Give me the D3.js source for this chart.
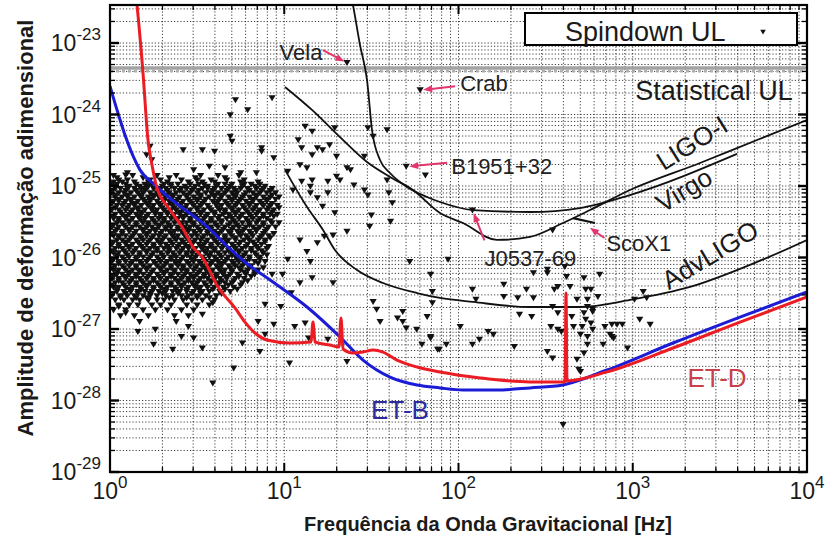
<!DOCTYPE html>
<html>
<head>
<meta charset="utf-8">
<script src="https://cdn.jsdelivr.net/npm/d3@7"></script>
<style>
  body { margin: 0; background: #fff; }
  svg { display: block; font-family: "Liberation Sans", Arial, Helvetica, sans-serif; }
</style>
</head>
<body>
<svg id="chart" width="825" height="540"></svg>
<script>
// ---------------- data ----------------
// sensitivity curves: [frequency Hz, strain amplitude]
const etB = [[1.0,2.5e-24],[1.097,1.16e-24],[1.219,5.16e-25],[1.486,1.68e-25],[1.813,1.03e-25],[2.269,6.37e-26],[2.803,4.33e-26],[3.51,2.85e-26],[4.755,1.40e-26],[5.953,8.65e-27],[8.617,4.54e-27],[13.51,2.03e-27],[20.89,7.73e-28],[28.31,3.68e-28],[40.45,2.13e-28],[57.8,1.65e-28],[78.3,1.50e-28],[106.1,1.40e-28],[166.3,1.40e-28],[257.2,1.50e-28],[397.9,1.65e-28],[711.7,2.67e-28],[1702,6.37e-28],[4126,1.47e-27],[10000,3.29e-27]];

const etD = [[1.41,4.69e-23],[1.429,3.40e-23],[1.547,3.80e-24],[1.652,4.40e-25],[1.742,1.97e-25],[1.861,9.37e-26],[2.152,5.08e-26],[2.59,2.67e-26],[2.995,1.40e-26],[3.373,1.02e-26],[4.168,3.87e-27],[5.216,1.97e-27],[5.953,1.25e-27],[6.795,8.79e-28],[7.96,7.02e-28],[10.79,6.37e-28],[14.24,6.58e-28],[14.62,1.25e-27],[15.02,6.58e-28],[18.3,5.97e-28],[20.62,5.60e-28],[21.17,1.43e-27],[21.74,5.25e-28],[24.8,4.61e-28],[28.31,4.76e-28],[32.31,5.08e-28],[36.87,4.76e-28],[44.36,3.68e-28],[57.8,2.94e-28],[78.3,2.51e-28],[132.9,2.07e-28],[257.2,1.82e-28],[408.6,1.82e-28],[414,3.18e-27],[419.5,1.88e-28],[711.7,2.51e-28],[1702,5.42e-28],[4126,1.25e-27],[10000,2.81e-27]];

const ligoI = [[10.1,2.43e-24],[14.43,1.16e-24],[20.89,4.84e-25],[29.85,2.17e-25],[40.45,1.34e-25],[54.8,8.79e-26],[78.3,4.19e-26],[106.1,3.04e-26],[166.3,1.76e-26],[257.2,1.94e-26],[397.9,3.04e-26],[568.6,4.61e-26],[964.3,8.79e-26],[2431,2.10e-25],[5166,4.40e-25],[10000,8.37e-25]];

const virgo = [[23.84,5.51e-23],[24.8,3.40e-23],[27.21,9.37e-24],[29.85,3.04e-24],[31.89,6.07e-25],[35.44,2.31e-25],[40.45,1.52e-25],[50.63,9.68e-26],[65.95,7.02e-26],[78.3,5.97e-26],[121.1,4.61e-26],[257.2,4.33e-26],[498.1,4.92e-26],[964.3,7.48e-26],[3967,2.81e-25]];

const advLigo = [[10.1,1.68e-25],[13.51,5.08e-26],[16.69,2.43e-26],[19.55,1.27e-26],[26.16,6.68e-27],[36.87,4.40e-27],[57.8,3.18e-27],[78.3,2.72e-27],[121.1,2.39e-27],[257.2,2.03e-27],[498.1,2.03e-27],[964.3,2.55e-27],[2131,3.87e-27],[5166,8.65e-27],[10000,1.76e-26]];

const scoX1 = [[454,3.56e-26],[607,3.04e-26]];

const statisticalUL = 4.47e-24;

// spindown upper limits of known pulsars: [log10 f, log10 h]
const spindownSparse = [[0.72,-23.8],[0.79,-23.94],[0.93,-23.77],[0.69,-24.01],[0.69,-24.31],[0.42,-24.5],[0.53,-24.5],[0.6,-24.52],[0.87,-24.52],[0.23,-24.45],[0.21,-24.57],[0.57,-24.73],[0.75,-24.82],[0.1,-24.82],[0.84,-24.82],[0.7,-24.38],[0.09,-24.85],[0.24,-24.64],[0.48,-24.78],[0.66,-24.75],[1.12,-24.17],[1.16,-24.24],[1.29,-24.19],[1.48,-24.19],[1.59,-24.22],[1.08,-24.36],[0.87,-24.47],[1.19,-24.47],[1.26,-24.43],[1.1,-24.47],[0.94,-24.61],[1.16,-24.57],[1.22,-24.5],[1.3,-24.59],[1.36,-24.75],[1.38,-24.78],[1.46,-24.59],[1.09,-24.71],[1.02,-24.8],[1.13,-24.75],[1.16,-24.92],[1.25,-24.94],[1.3,-24.87],[1.32,-24.92],[1.4,-24.99],[1.46,-25.06],[1.48,-25.13],[1.59,-24.92],[1.6,-25.1],[1.62,-25.24],[1.5,-25.41],[1.49,-25.57],[1.61,-25.5],[1.36,-25.64],[1.29,-25.38],[1.22,-25.29],[1.15,-25.01],[1.15,-25.1],[1.1,-24.94],[1.05,-25.06],[1.19,-25.17],[1.25,-25.1],[1.28,-25.69],[1.19,-25.8],[1.13,-25.92],[1.23,-25.71],[1.09,-25.76],[1.51,-24.31],
[1.78,-23.66],[1.36,-23.28],[1.7,-24.73],[1.81,-24.85],[2.08,-25.34],
[1.02,-26.03],[1.15,-26.06],[1.16,-26.29],[1.09,-26.36],[1.28,-26.36],[1.04,-26.5],[0.93,-26.24],[0.99,-26.24],[0.89,-26.66],[0.98,-26.69],[0.85,-26.9],[0.94,-26.94],[1.06,-26.97],[1.12,-26.92],[0.89,-27.08],[1.14,-27.13],[1.25,-27.15],[0.76,-27.2],[0.86,-27.32],[1.03,-27.48],[1.36,-27.46],[1.51,-26.62],[1.53,-26.73],[1.55,-26.9],[1.65,-26.85],[1.68,-26.76],[1.68,-26.9],[1.76,-27.01],[1.7,-26.99],[1.79,-27.22],[1.84,-27.13],[1.82,-26.83],[1.72,-26.06],[1.84,-26.24],[1.85,-26.48],[1.85,-26.64],[1.88,-27.29],
[1.94,-26.03],[2.1,-26.59],[2.08,-26.45],[2.26,-26.38],[2.26,-26.55],[2.34,-26.57],[2.39,-26.45],[2.43,-26.22],[2.51,-26.17],[2.43,-26.57],[2.35,-26.8],[2.42,-26.83],[2.54,-25.62],[2.61,-26.13],[2.62,-26.27],[2.72,-26.29],[2.81,-26.24],[2.57,-26.41],[2.55,-26.45],[2.54,-26.69],[2.57,-26.78],[2.53,-26.97],[2.59,-27.04],[2.65,-26.83],[2.66,-26.97],[2.71,-26.97],[2.72,-26.78],[2.74,-26.69],[2.77,-26.73],[2.74,-26.59],[2.68,-26.59],[2.73,-26.45],[2.64,-26.41],[2.74,-27.11],[2.77,-27.01],[2.74,-27.22],[2.83,-27.22],[2.72,-27.34],[2.68,-27.43],[2.7,-27.6],[2.54,-27.41],[2.51,-27.32],[2.88,-27.11],[2.88,-26.94],[2.94,-26.94],[2.01,-26.97],[2.17,-27.04],[2.2,-27.08],[2.12,-27.15],[2.08,-27.22],[1.93,-27.22],[1.89,-27.29],[2.32,-27.25],[2.6,-28.34],[1.84,-27.11],
[2.51,-26.22],[2.76,-26.45],[2.8,-26.55],[3.06,-26.48],[3.08,-26.57],[3.01,-26.59],[2.91,-26.94],[3.04,-26.87],[3.1,-26.94],[2.97,-27.27],[2.87,-27.08],[2.89,-27.13],[2.57,-27.01],[2.69,-27.57],[2.76,-26.92],[2.7,-27.08],[2.77,-26.76],[2.84,-26.97],[2.73,-26.87],
[0.59,-27.76],[0.09,-26.78],[0.16,-27.04],[0.25,-27.22],[0.36,-27.29],[0.41,-27.11],[0.48,-27.13],[0.53,-27.27],[0.71,-27.55],[0.17,-26.9],[0.26,-27.01],[0.38,-26.9],[0.45,-26.97],[0.53,-26.8],[0.59,-26.64],[0.05,-26.69]];

// dense low-frequency population, one row per log10 h: [log10 h, [log10 f, ...]]
const spindownCluster = [
 [-24.86,[0.02,0.13,0.27,0.38,0.52,0.62,0.74]],
 [-24.89,[0.04,0.19,0.34,0.49,0.66]],
 [-24.92,[0.05,0.1,0.23,0.29,0.41,0.5,0.58,0.67,0.77]],
 [-24.95,[0.02,0.07,0.14,0.22,0.33,0.45,0.53,0.6,0.75,0.85]],
 [-24.98,[0.01,0.04,0.09,0.15,0.2,0.24,0.31,0.35,0.39,0.46,0.51,0.54,0.62,0.66,0.7,0.77,0.81,0.86]],
 [-25.01,[0.03,0.11,0.17,0.22,0.3,0.35,0.43,0.49,0.56,0.61,0.69,0.76,0.83,0.89]],
 [-25.04,[0.03,0.06,0.1,0.14,0.18,0.21,0.25,0.29,0.32,0.37,0.41,0.44,0.48,0.53,0.56,0.6,0.64,0.68,0.71,0.75,0.79,0.84,0.88,0.93]],
 [-25.07,[0.01,0.09,0.15,0.2,0.28,0.33,0.4,0.47,0.51,0.59,0.67,0.72,0.8,0.87,0.92]],
 [-25.1,[0.01,0.05,0.08,0.12,0.16,0.19,0.23,0.27,0.3,0.34,0.38,0.42,0.46,0.5,0.55,0.58,0.62,0.66,0.7,0.73,0.78,0.82,0.86,0.9,0.95]],
 [-25.13,[0.03,0.1,0.17,0.25,0.32,0.36,0.44,0.52,0.6,0.64,0.71,0.77,0.84,0.93]],
 [-25.16,[0.03,0.07,0.1,0.14,0.18,0.22,0.25,0.28,0.32,0.36,0.4,0.44,0.48,0.52,0.57,0.6,0.64,0.68,0.72,0.76,0.8,0.84,0.88,0.92,0.97]],
 [-25.19,[0.05,0.12,0.19,0.23,0.3,0.39,0.45,0.5,0.55,0.63,0.7,0.75,0.82,0.9,0.95]],
 [-25.22,[0.02,0.05,0.09,0.12,0.16,0.2,0.23,0.27,0.31,0.34,0.38,0.42,0.46,0.5,0.54,0.59,0.62,0.66,0.7,0.74,0.78,0.82,0.86,0.9]],
 [-25.25,[0.01,0.08,0.14,0.21,0.28,0.35,0.41,0.47,0.53,0.61,0.67,0.73,0.8,0.87,0.93]],
 [-25.28,[0.04,0.07,0.11,0.14,0.18,0.22,0.25,0.29,0.33,0.36,0.4,0.44,0.48,0.52,0.56,0.61,0.64,0.68,0.72,0.76,0.8,0.84,0.88,0.92,0.96]],
 [-25.31,[0.03,0.1,0.16,0.24,0.3,0.37,0.43,0.5,0.57,0.62,0.7,0.77,0.83,0.91,0.97]],
 [-25.34,[0.01,0.05,0.09,0.13,0.16,0.2,0.24,0.27,0.31,0.35,0.38,0.42,0.46,0.5,0.54,0.58,0.63,0.66,0.7,0.74,0.78,0.82,0.86,0.9,0.94]],
 [-25.37,[0.06,0.12,0.18,0.26,0.33,0.4,0.45,0.52,0.6,0.66,0.72,0.79,0.85,0.93]],
 [-25.4,[0.03,0.07,0.11,0.15,0.18,0.22,0.26,0.29,0.33,0.37,0.4,0.44,0.48,0.52,0.56,0.6,0.65,0.68,0.72,0.76,0.8,0.84,0.88,0.92,0.96]],
 [-25.43,[0.02,0.09,0.16,0.21,0.29,0.36,0.42,0.49,0.55,0.63,0.69,0.75,0.81,0.88,0.94]],
 [-25.46,[0.02,0.05,0.09,0.13,0.17,0.2,0.24,0.28,0.31,0.35,0.39,0.42,0.46,0.5,0.54,0.58,0.62,0.67,0.7,0.74,0.78,0.82,0.86,0.9]],
 [-25.49,[0.05,0.11,0.18,0.25,0.31,0.38,0.46,0.53,0.58,0.64,0.71,0.79,0.85,0.92]],
 [-25.52,[0.04,0.07,0.11,0.15,0.19,0.22,0.26,0.3,0.33,0.37,0.41,0.44,0.48,0.52,0.56,0.6,0.64,0.69,0.72,0.76,0.8,0.84,0.88,0.93,0.97]],
 [-25.55,[0.02,0.08,0.15,0.22,0.28,0.34,0.41,0.48,0.55,0.61,0.68,0.73,0.8,0.88]],
 [-25.58,[0.01,0.05,0.09,0.13,0.17,0.21,0.24,0.28,0.32,0.35,0.39,0.43,0.46,0.5,0.54,0.58,0.62,0.66,0.71,0.74,0.78,0.82,0.86,0.91,0.95]],
 [-25.61,[0.04,0.11,0.19,0.26,0.32,0.39,0.44,0.51,0.58,0.65,0.7,0.77,0.84,0.9]],
 [-25.64,[0.03,0.07,0.11,0.15,0.19,0.23,0.26,0.3,0.34,0.37,0.41,0.45,0.48,0.52,0.56,0.6,0.64,0.68,0.73,0.76,0.8,0.84,0.89]],
 [-25.67,[0.01,0.07,0.14,0.21,0.29,0.35,0.42,0.49,0.56,0.62,0.69,0.74,0.81,0.88,0.94]],
 [-25.7,[0.02,0.05,0.09,0.13,0.17,0.21,0.25,0.28,0.32,0.36,0.39,0.43,0.47,0.5,0.54,0.58,0.62,0.66,0.7,0.75,0.78,0.82,0.87,0.91]],
 [-25.73,[0.05,0.12,0.18,0.24,0.31,0.37,0.44,0.53,0.59,0.66,0.72,0.79,0.86,0.92]],
 [-25.76,[0.04,0.07,0.11,0.15,0.19,0.23,0.27,0.3,0.34,0.38,0.41,0.45,0.49,0.52,0.56,0.6,0.64,0.68,0.72,0.77,0.8,0.85,0.89]],
 [-25.79,[0.02,0.09,0.16,0.22,0.28,0.35,0.42,0.48,0.55,0.61,0.67,0.75,0.82,0.89]],
 [-25.82,[0.01,0.05,0.09,0.13,0.17,0.21,0.25,0.29,0.32,0.36,0.4,0.43,0.47,0.51,0.54,0.58,0.62,0.66,0.7,0.74,0.79,0.83,0.87]],
 [-25.85,[0.05,0.11,0.18,0.25,0.33,0.39,0.45,0.52,0.58,0.65,0.71,0.78,0.84,0.91]],
 [-25.88,[0.03,0.07,0.11,0.15,0.19,0.23,0.27,0.31,0.34,0.38,0.42,0.45,0.49,0.53,0.56,0.6,0.64,0.68,0.72,0.76,0.81,0.85,0.9]],
 [-25.91,[0.01,0.08,0.14,0.21,0.27,0.34,0.41,0.48,0.54,0.6,0.68,0.74,0.81,0.87]],
 [-25.94,[0.02,0.05,0.09,0.13,0.17,0.21,0.25,0.29,0.33,0.36,0.4,0.44,0.47,0.51,0.55,0.58,0.62,0.66,0.7,0.74,0.78,0.83,0.88]],
 [-25.97,[0.04,0.1,0.17,0.24,0.3,0.37,0.44,0.5,0.57,0.63,0.7,0.77,0.84,0.9]],
 [-26,[0.04,0.07,0.11,0.15,0.19,0.23,0.27,0.31,0.35,0.38,0.42,0.46,0.49,0.53,0.57,0.6,0.64,0.68,0.72,0.76,0.8,0.86]],
 [-26.03,[0.02,0.08,0.15,0.22,0.28,0.35,0.41,0.47,0.54,0.61,0.67,0.73,0.8,0.86]],
 [-26.06,[0.01,0.05,0.09,0.13,0.17,0.21,0.25,0.29,0.33,0.37,0.4,0.44,0.48,0.51,0.55,0.59,0.62,0.66,0.7,0.74,0.78,0.83,0.89]],
 [-26.09,[0.05,0.12,0.18,0.26,0.32,0.38,0.45,0.52,0.58,0.64,0.71,0.77,0.85]],
 [-26.12,[0.03,0.07,0.11,0.15,0.19,0.23,0.27,0.31,0.35,0.39,0.42,0.46,0.5,0.53,0.57,0.61,0.64,0.68,0.72,0.76,0.81]],
 [-26.15,[0.01,0.08,0.15,0.21,0.29,0.35,0.42,0.49,0.55,0.62,0.69,0.74,0.8,0.88]],
 [-26.18,[0.02,0.05,0.09,0.13,0.17,0.21,0.25,0.29,0.33,0.37,0.41,0.44,0.48,0.52,0.55,0.59,0.63,0.66,0.7,0.75,0.79,0.85]],
 [-26.21,[0.04,0.11,0.17,0.24,0.31,0.37,0.44,0.51,0.57,0.64,0.7,0.77,0.83]],
 [-26.24,[0.04,0.07,0.11,0.15,0.19,0.23,0.27,0.31,0.35,0.39,0.43,0.46,0.5,0.54,0.57,0.61,0.65,0.69,0.73,0.78,0.83]],
 [-26.27,[0.02,0.09,0.15,0.22,0.28,0.35,0.42,0.48,0.54,0.61,0.67,0.74,0.81]],
 [-26.3,[0.01,0.05,0.09,0.13,0.17,0.21,0.25,0.29,0.33,0.37,0.41,0.45,0.48,0.52,0.56,0.6,0.63,0.67,0.72,0.77]],
 [-26.33,[0.05,0.12,0.18,0.25,0.32,0.39,0.45,0.51,0.58,0.64,0.71,0.79]],
 [-26.36,[0.03,0.07,0.11,0.15,0.19,0.23,0.27,0.31,0.35,0.39,0.43,0.47,0.5,0.54,0.58,0.62,0.66,0.7,0.76]],
 [-26.39,[0.01,0.08,0.15,0.21,0.28,0.35,0.41,0.48,0.55,0.62,0.68,0.75]],
 [-26.42,[0.02,0.05,0.09,0.13,0.17,0.21,0.25,0.29,0.33,0.37,0.41,0.45,0.49,0.52,0.56,0.6,0.65,0.71]],
 [-26.45,[0.04,0.11,0.18,0.25,0.31,0.38,0.44,0.51,0.59,0.66,0.73]],
 [-26.48,[0.04,0.08,0.12,0.16,0.2,0.24,0.28,0.32,0.36,0.4,0.44,0.48,0.53,0.57,0.63,0.69]],
 [-26.51,[0.02,0.09,0.16,0.23,0.3,0.39,0.47,0.52,0.64]],
 [-26.54,[0.01,0.06,0.1,0.14,0.19,0.23,0.27,0.32,0.36,0.41,0.45,0.5,0.55,0.61]],
 [-26.57,[0.06,0.15,0.21,0.34,0.44,0.5,0.57]],
 [-26.6,[0.03,0.08,0.13,0.17,0.22,0.27,0.31,0.37,0.42,0.47,0.53,0.6]],
 [-26.67,[0.05,0.11,0.16,0.24,0.29,0.35,0.44,0.5,0.57]],
 [-26.74,[0.02,0.09,0.19,0.26,0.33,0.41,0.48]],
 [-26.82,[0.06,0.14,0.22,0.37,0.45]]
];

// annotated pulsars: name and the strain limit it points at [log10 f, log10 h]
const pulsarNames = ["Vela", "Crab", "B1951+32", "J0537-69", "ScoX1"];
const pulsarTargets = [[1.36,-23.28],[1.78,-23.66],[1.7,-24.73],[2.08,-25.34],[2.74,-25.56]];

// axis decades
const xDecades = [1, 10, 100, 1000, 10000];
const xExponents = ["0", "1", "2", "3", "4"];
const yDecades = [1e-29, 1e-28, 1e-27, 1e-26, 1e-25, 1e-24, 1e-23];
const yExponents = ["-29", "-28", "-27", "-26", "-25", "-24", "-23"];
const yTop = 3.4e-23;

// ---------------- layout ----------------
const svg = d3.select("#chart");
const P = { left: 110, right: 807, top: 5, bottom: 472 };

const x = d3.scaleLog().domain([1, 1e4]).range([P.left, P.right]);
const y = d3.scaleLog().domain([1e-29, yTop]).range([P.bottom, P.top]);

svg.append("rect").attr("width", 825).attr("height", 540).attr("fill", "#fff");

svg.append("defs").append("clipPath").attr("id", "plotClip")
  .append("rect").attr("x", P.left).attr("y", P.top)
  .attr("width", P.right - P.left).attr("height", P.bottom - P.top);

// minor/major grid positions
const xGrid = [];
for (let k = 0; k < 4; k++) for (let m = 1; m < 10; m++) xGrid.push(m * Math.pow(10, k));
xGrid.push(1e4);
const yGrid = [];
for (let e = -29; e <= -23; e++) for (let m = 1; m < 10; m++) {
  const v = m * Math.pow(10, e);
  if (v <= yTop) yGrid.push(v);
}

const grid = svg.append("g").attr("stroke", "#2a2a2a").attr("stroke-width", 0.9)
  .attr("stroke-dasharray", "1.2,2");
grid.selectAll("line.v").data(xGrid).join("line").attr("class", "v")
  .attr("x1", d => x(d)).attr("x2", d => x(d)).attr("y1", P.top).attr("y2", P.bottom);
grid.selectAll("line.h").data(yGrid).join("line").attr("class", "h")
  .attr("y1", d => y(d)).attr("y2", d => y(d)).attr("x1", P.left).attr("x2", P.right);

const plot = svg.append("g").attr("clip-path", "url(#plotClip)");

// statistical upper limit band
plot.append("line").attr("x1", P.left).attr("x2", P.right)
  .attr("y1", y(statisticalUL)).attr("y2", y(statisticalUL))
  .attr("stroke", "#a3a3a3").attr("stroke-width", 3.5);
plot.append("line").attr("x1", P.left).attr("x2", P.right)
  .attr("y1", y(statisticalUL) + 3).attr("y2", y(statisticalUL) + 3)
  .attr("stroke", "#b0b0b0").attr("stroke-width", 3).attr("stroke-dasharray", "3,3");

// spindown upper limits
const pts = spindownSparse.slice();
spindownCluster.forEach(([lh, lfs]) => lfs.forEach(lf => pts.push([lf, lh])));
const tri = "M-3.6,-2.9L3.6,-2.9L0,3.1Z";
plot.append("g").selectAll("path").data(pts).join("path")
  .attr("d", tri)
  .attr("transform", d => `translate(${x(Math.pow(10, d[0]))},${y(Math.pow(10, d[1]))})`)
  .attr("fill", "#111");

// detector curves
const line = d3.line().x(d => x(d[0])).y(d => y(d[1])).curve(d3.curveMonotoneX);
const drawCurve = (data, color, width) =>
  plot.append("path").datum(data).attr("d", line).attr("fill", "none")
    .attr("stroke", color).attr("stroke-width", width).attr("stroke-linejoin", "round");

drawCurve(ligoI, "#111", 1.8);
drawCurve(virgo, "#111", 1.8);
drawCurve(advLigo, "#111", 1.8);
plot.append("path").datum(scoX1).attr("d", d3.line().x(d => x(d[0])).y(d => y(d[1])))
  .attr("fill", "none").attr("stroke", "#111").attr("stroke-width", 2.2);
drawCurve(etB, "#1c1cd6", 3);
drawCurve(etD, "#ec1c24", 3);

// pulsar annotations (pink arrows)
const noteLayout = [
  { tail: [-24, -13], text: [-46, -11], anchor: "middle" },
  { tail: [35, -4], text: [40, -7], anchor: "start" },
  { tail: [41, -4], text: [45, 0], anchor: "start" },
  { tail: [12, 30], text: [12, 48], anchor: "start" },
  { tail: [17, 12], text: [19, 17], anchor: "start" }
];
const pink = "#e2366c";
const notes = svg.append("g");
pulsarNames.forEach((name, i) => {
  const tx = x(Math.pow(10, pulsarTargets[i][0]));
  const ty = y(Math.pow(10, pulsarTargets[i][1]));
  const L = noteLayout[i];
  const sx = tx + L.tail[0], sy = ty + L.tail[1];
  const ang = Math.atan2(ty - sy, tx - sx);
  const ex = tx - 3 * Math.cos(ang), ey = ty - 3 * Math.sin(ang);
  notes.append("line").attr("x1", sx).attr("y1", sy).attr("x2", ex - 6 * Math.cos(ang)).attr("y2", ey - 6 * Math.sin(ang))
    .attr("stroke", pink).attr("stroke-width", 2);
  const hl = 9, hw = 3.5;
  const bx = ex - hl * Math.cos(ang), by = ey - hl * Math.sin(ang);
  notes.append("path")
    .attr("d", `M${ex},${ey}L${bx + hw * Math.sin(ang)},${by - hw * Math.cos(ang)}L${bx - hw * Math.sin(ang)},${by + hw * Math.cos(ang)}Z`)
    .attr("fill", pink);
  notes.append("text").attr("x", tx + L.text[0]).attr("y", ty + L.text[1])
    .attr("text-anchor", L.anchor).attr("dominant-baseline", "central")
    .attr("font-size", 22).attr("fill", "#222").text(name);
});

// curve labels
const labels = svg.append("g").attr("font-size", 26).attr("fill", "#1a1a1a");
labels.append("text").attr("x", 714).attr("y", 100).attr("text-anchor", "middle")
  .attr("font-size", 27).text("Statistical UL");
[["LIGO-I", 692, 143, -32], ["Virgo", 684, 190, -31], ["AdvLIGO", 710, 255, -31]].forEach(([t, cx, cy, r]) => {
  labels.append("text").attr("transform", `translate(${cx},${cy}) rotate(${r})`)
    .attr("text-anchor", "middle").attr("dominant-baseline", "central").text(t);
});
labels.append("text").attr("x", 400).attr("y", 410).attr("text-anchor", "middle")
  .attr("dominant-baseline", "central").attr("fill", "#2c2ca0").text("ET-B");
labels.append("text").attr("x", 717).attr("y", 378).attr("text-anchor", "middle")
  .attr("dominant-baseline", "central").attr("fill", "#c8404c").text("ET-D");

// frame and ticks
const axes = svg.append("g").attr("stroke", "#000");
axes.append("rect").attr("x", P.left).attr("y", P.top)
  .attr("width", P.right - P.left).attr("height", P.bottom - P.top)
  .attr("fill", "none").attr("stroke-width", 2.2);
const isMajor = v => Math.abs(Math.log10(v) - Math.round(Math.log10(v))) < 1e-6;
xGrid.forEach(v => {
  const len = isMajor(v) ? 9 : 5, w = isMajor(v) ? 2 : 1.3;
  axes.append("line").attr("x1", x(v)).attr("x2", x(v)).attr("y1", P.bottom).attr("y2", P.bottom - len).attr("stroke-width", w);
  axes.append("line").attr("x1", x(v)).attr("x2", x(v)).attr("y1", P.top).attr("y2", P.top + len).attr("stroke-width", w);
});
yGrid.forEach(v => {
  const len = isMajor(v) ? 9 : 5, w = isMajor(v) ? 2.4 : 1.3;
  axes.append("line").attr("y1", y(v)).attr("y2", y(v)).attr("x1", P.left).attr("x2", P.left + len).attr("stroke-width", w);
  axes.append("line").attr("y1", y(v)).attr("y2", y(v)).attr("x1", P.right).attr("x2", P.right - len).attr("stroke-width", w);
});

// tick labels as powers of ten
const tickText = svg.append("g").attr("fill", "#1a1a1a");
xDecades.forEach((v, i) => {
  const t = tickText.append("text").attr("x", x(v)).attr("y", 499).attr("text-anchor", "middle");
  t.append("tspan").attr("font-size", 23).text("10");
  t.append("tspan").attr("font-size", 17).attr("dy", -11).text(xExponents[i]);
});
yDecades.forEach((v, i) => {
  const t = tickText.append("text").attr("x", 101).attr("y", y(v) + 8).attr("text-anchor", "end");
  t.append("tspan").attr("font-size", 23).text("10");
  t.append("tspan").attr("font-size", 17).attr("dy", -11).text(yExponents[i]);
});

// axis titles
svg.append("text").attr("transform", "translate(33,228) rotate(-90)")
  .attr("text-anchor", "middle").attr("font-size", 22).attr("font-weight", "bold")
  .attr("fill", "#1a1a1a").text("Amplitude de deformação adimensional");
svg.append("text").attr("x", 488).attr("y", 531).attr("text-anchor", "middle")
  .attr("font-size", 20).attr("font-weight", "bold").attr("fill", "#1a1a1a")
  .text("Frequência da Onda Gravitacional [Hz]");

// legend
const lg = svg.append("g");
lg.append("rect").attr("x", 525).attr("y", 13).attr("width", 272).attr("height", 32)
  .attr("fill", "#fff").attr("stroke", "#000").attr("stroke-width", 2);
lg.append("text").attr("x", 565).attr("y", 41).attr("font-size", 27).attr("fill", "#1a1a1a").text("Spindown UL");
lg.append("path").attr("d", "M-2.8,-2.2L2.8,-2.2L0,2.4Z").attr("transform", "translate(763,32)").attr("fill", "#111");
</script>
</body>
</html>
